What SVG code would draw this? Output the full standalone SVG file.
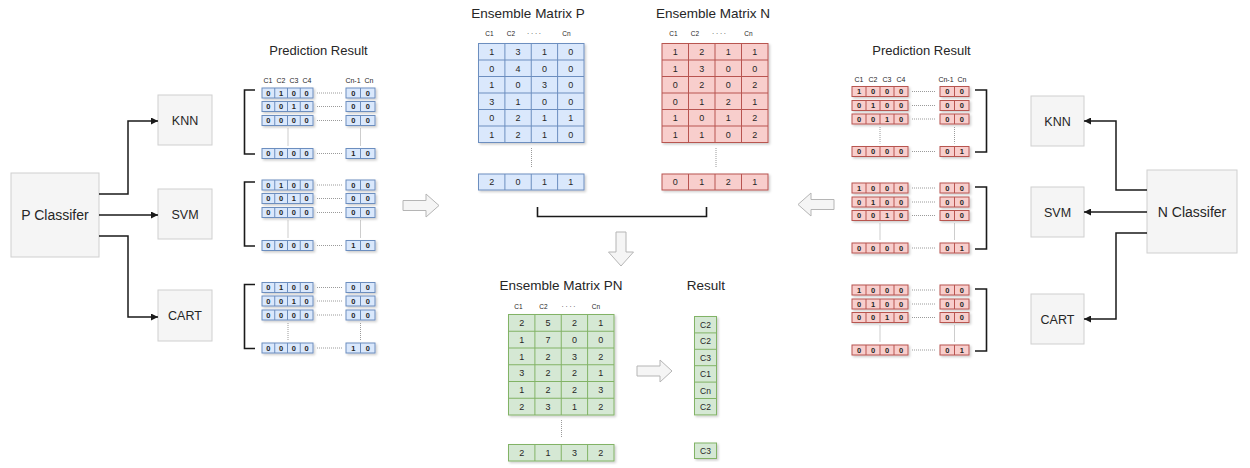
<svg xmlns="http://www.w3.org/2000/svg" width="1250" height="468" viewBox="0 0 1250 468">
<defs>
<style>
.t{font-family:"Liberation Sans",Arial,sans-serif;fill:#262626;text-anchor:middle}
.hd{font-size:7px}
.eh{font-size:6.5px}
.pc{font-size:7.5px;font-weight:bold}
.ec{font-size:9px}
.bl{fill:#dae8fc;stroke:#6c8ebf;stroke-width:1}
.rd{fill:#f8cecc;stroke:#b85450;stroke-width:1}
.gr{fill:#d5e8d4;stroke:#82b366;stroke-width:1}
.blL{fill:none;stroke:#6c8ebf;stroke-width:1}
.rdL{fill:none;stroke:#b85450;stroke-width:1}
.grL{fill:none;stroke:#82b366;stroke-width:1}
.box{fill:#f5f5f5;stroke:#cfcfcf;stroke-width:1}
.dot{fill:none;stroke:#9a9a9a;stroke-width:1;stroke-dasharray:1 1}
.brk{fill:none;stroke:#1a1a1a;stroke-width:1.6}
.con{fill:none;stroke:#1a1a1a;stroke-width:1.5}
.ha{fill:#f5f5f5;stroke:#b5b5b5;stroke-width:1}
</style>
<marker id="arr" markerUnits="userSpaceOnUse" markerWidth="8" markerHeight="7" refX="7" refY="3.5" orient="auto">
<path d="M0,0 L7,3.5 L0,7 z" fill="#1a1a1a"/>
</marker>
<filter id="sh" x="-10%" y="-10%" width="130%" height="130%">
<feDropShadow dx="1.5" dy="1.5" stdDeviation="1" flood-color="#000" flood-opacity="0.2"/>
</filter>
</defs>
<rect width="1250" height="468" fill="#ffffff"/>

<!-- Left classifiers -->
<g id="p-classifier"><rect class="box" x="11" y="173" width="88" height="84"/><text class="t" x="55" y="220" font-size="14">P Classifer</text></g>
<g id="p-knn"><rect class="box" x="158" y="95" width="54" height="50"/><text class="t" x="185" y="124.5" font-size="12.5">KNN</text></g>
<g id="p-svm"><rect class="box" x="158" y="189" width="54" height="50"/><text class="t" x="185" y="218.5" font-size="12.5">SVM</text></g>
<g id="p-cart"><rect class="box" x="158" y="290" width="54" height="51"/><text class="t" x="185" y="320" font-size="12.5">CART</text></g>

<!-- Right classifiers -->
<g id="n-classifier"><rect class="box" x="1147" y="170" width="90" height="83"/><text class="t" x="1192" y="216.5" font-size="14">N Classifer</text></g>
<g id="n-knn"><rect class="box" x="1031" y="96" width="53" height="50"/><text class="t" x="1057.5" y="125.5" font-size="12.5">KNN</text></g>
<g id="n-svm"><rect class="box" x="1031" y="187" width="53" height="50"/><text class="t" x="1057.5" y="216.5" font-size="12.5">SVM</text></g>
<g id="n-cart"><rect class="box" x="1031" y="294" width="53" height="50"/><text class="t" x="1057.5" y="323.5" font-size="12.5">CART</text></g>

<!-- Left prediction result -->
<g id="pred-left">
<text class="t" x="318.5" y="54.5" font-size="13">Prediction Result</text>
<text class="t hd" x="268" y="83">C1</text><text class="t hd" x="281" y="83">C2</text><text class="t hd" x="294" y="83">C3</text><text class="t hd" x="307" y="83">C4</text>
<text class="t hd" x="353" y="83">Cn-1</text><text class="t hd" x="369" y="83">Cn</text>
<g filter="url(#sh)">
<rect class="bl" x="262" y="88" width="51" height="10"/><rect class="bl" x="346" y="88" width="29" height="10"/>
<rect class="bl" x="262" y="101.5" width="51" height="10"/><rect class="bl" x="346" y="101.5" width="29" height="10"/>
<rect class="bl" x="262" y="115.5" width="51" height="10"/><rect class="bl" x="346" y="115.5" width="29" height="10"/>
<rect class="bl" x="262" y="148.5" width="51" height="10"/><rect class="bl" x="346" y="148.5" width="29" height="10"/>
</g>
<path class="blL" d="M274.75 88v10M287.5 88v10M300.25 88v10M360.5 88v10M274.75 101.5v10M287.5 101.5v10M300.25 101.5v10M360.5 101.5v10M274.75 115.5v10M287.5 115.5v10M300.25 115.5v10M360.5 115.5v10M274.75 148.5v10M287.5 148.5v10M300.25 148.5v10M360.5 148.5v10"/>
<text class="t pc" x="268.4 281.1 293.9 306.6 353.25 367.75" y="95.7">010000</text>
<text class="t pc" x="268.4 281.1 293.9 306.6 353.25 367.75" y="109.2">001000</text>
<text class="t pc" x="268.4 281.1 293.9 306.6 353.25 367.75" y="123.2">000000</text>
<text class="t pc" x="268.4 281.1 293.9 306.6 353.25 367.75" y="156.2">000010</text>
<path class="dot" d="M317 93H342M317 106.5H342M317 120.5H342M317 153.5H342M288 128.5V145.5M360.5 128.5V145.5"/>
<path class="brk" d="M255 90H244.5V154H255"/>

<g filter="url(#sh)">
<rect class="bl" x="262" y="180" width="51" height="10"/><rect class="bl" x="346" y="180" width="29" height="10"/>
<rect class="bl" x="262" y="193.5" width="51" height="10"/><rect class="bl" x="346" y="193.5" width="29" height="10"/>
<rect class="bl" x="262" y="207.5" width="51" height="10"/><rect class="bl" x="346" y="207.5" width="29" height="10"/>
<rect class="bl" x="262" y="240.5" width="51" height="10"/><rect class="bl" x="346" y="240.5" width="29" height="10"/>
</g>
<path class="blL" d="M274.75 180v10M287.5 180v10M300.25 180v10M360.5 180v10M274.75 193.5v10M287.5 193.5v10M300.25 193.5v10M360.5 193.5v10M274.75 207.5v10M287.5 207.5v10M300.25 207.5v10M360.5 207.5v10M274.75 240.5v10M287.5 240.5v10M300.25 240.5v10M360.5 240.5v10"/>
<text class="t pc" x="268.4 281.1 293.9 306.6 353.25 367.75" y="187.7">010000</text>
<text class="t pc" x="268.4 281.1 293.9 306.6 353.25 367.75" y="201.2">001000</text>
<text class="t pc" x="268.4 281.1 293.9 306.6 353.25 367.75" y="215.2">000000</text>
<text class="t pc" x="268.4 281.1 293.9 306.6 353.25 367.75" y="248.2">000010</text>
<path class="dot" d="M317 185H342M317 198.5H342M317 212.5H342M317 245.5H342M288 220.5V237.5M360.5 220.5V237.5"/>
<path class="brk" d="M255 182H244.5V246H255"/>

<g filter="url(#sh)">
<rect class="bl" x="262" y="282.5" width="51" height="10"/><rect class="bl" x="346" y="282.5" width="29" height="10"/>
<rect class="bl" x="262" y="296" width="51" height="10"/><rect class="bl" x="346" y="296" width="29" height="10"/>
<rect class="bl" x="262" y="310" width="51" height="10"/><rect class="bl" x="346" y="310" width="29" height="10"/>
<rect class="bl" x="262" y="343" width="51" height="10"/><rect class="bl" x="346" y="343" width="29" height="10"/>
</g>
<path class="blL" d="M274.75 282.5v10M287.5 282.5v10M300.25 282.5v10M360.5 282.5v10M274.75 296v10M287.5 296v10M300.25 296v10M360.5 296v10M274.75 310v10M287.5 310v10M300.25 310v10M360.5 310v10M274.75 343v10M287.5 343v10M300.25 343v10M360.5 343v10"/>
<text class="t pc" x="268.4 281.1 293.9 306.6 353.25 367.75" y="290.2">010000</text>
<text class="t pc" x="268.4 281.1 293.9 306.6 353.25 367.75" y="303.7">001000</text>
<text class="t pc" x="268.4 281.1 293.9 306.6 353.25 367.75" y="317.7">000000</text>
<text class="t pc" x="268.4 281.1 293.9 306.6 353.25 367.75" y="350.7">000010</text>
<path class="dot" d="M317 287.5H342M317 301H342M317 315H342M317 348H342M288 323V340M360.5 323V340"/>
<path class="brk" d="M255 284.5H244.5V348.5H255"/>
</g>

<!-- Right prediction result -->
<g id="pred-right">
<text class="t" x="921.5" y="54.5" font-size="13">Prediction Result</text>
<text class="t hd" x="859" y="82">C1</text><text class="t hd" x="873" y="82">C2</text><text class="t hd" x="887" y="82">C3</text><text class="t hd" x="901" y="82">C4</text>
<text class="t hd" x="946" y="82">Cn-1</text><text class="t hd" x="962" y="82">Cn</text>
<g filter="url(#sh)">
<rect class="rd" x="852" y="86.5" width="56" height="10"/><rect class="rd" x="940" y="86.5" width="29" height="10"/>
<rect class="rd" x="852" y="100.5" width="56" height="10"/><rect class="rd" x="940" y="100.5" width="29" height="10"/>
<rect class="rd" x="852" y="114" width="56" height="10"/><rect class="rd" x="940" y="114" width="29" height="10"/>
<rect class="rd" x="852" y="146.5" width="56" height="10"/><rect class="rd" x="940" y="146.5" width="29" height="10"/>
</g>
<path class="rdL" d="M866 86.5v10M880 86.5v10M894 86.5v10M954.5 86.5v10M866 100.5v10M880 100.5v10M894 100.5v10M954.5 100.5v10M866 114v10M880 114v10M894 114v10M954.5 114v10M866 146.5v10M880 146.5v10M894 146.5v10M954.5 146.5v10"/>
<text class="t pc" x="859 873 887 901 947.25 961.75" y="94.2">100000</text>
<text class="t pc" x="859 873 887 901 947.25 961.75" y="108.2">010000</text>
<text class="t pc" x="859 873 887 901 947.25 961.75" y="121.7">001000</text>
<text class="t pc" x="859 873 887 901 947.25 961.75" y="154.2">000001</text>
<path class="dot" d="M912 91.5H936M912 105.5H936M912 119H936M912 151.5H936M880 127V143.5M954.5 127V143.5"/>
<path class="brk" d="M975 90H986.5V152H975"/>

<g filter="url(#sh)">
<rect class="rd" x="852" y="183" width="56" height="10"/><rect class="rd" x="940" y="183" width="29" height="10"/>
<rect class="rd" x="852" y="197" width="56" height="10"/><rect class="rd" x="940" y="197" width="29" height="10"/>
<rect class="rd" x="852" y="210.5" width="56" height="10"/><rect class="rd" x="940" y="210.5" width="29" height="10"/>
<rect class="rd" x="852" y="243" width="56" height="10"/><rect class="rd" x="940" y="243" width="29" height="10"/>
</g>
<path class="rdL" d="M866 183v10M880 183v10M894 183v10M954.5 183v10M866 197v10M880 197v10M894 197v10M954.5 197v10M866 210.5v10M880 210.5v10M894 210.5v10M954.5 210.5v10M866 243v10M880 243v10M894 243v10M954.5 243v10"/>
<text class="t pc" x="859 873 887 901 947.25 961.75" y="190.7">100000</text>
<text class="t pc" x="859 873 887 901 947.25 961.75" y="204.7">010000</text>
<text class="t pc" x="859 873 887 901 947.25 961.75" y="218.2">001000</text>
<text class="t pc" x="859 873 887 901 947.25 961.75" y="250.7">000001</text>
<path class="dot" d="M912 188H936M912 202H936M912 215.5H936M912 248H936M880 223.5V240M954.5 223.5V240"/>
<path class="brk" d="M975 187H986.5V249H975"/>

<g filter="url(#sh)">
<rect class="rd" x="852" y="285" width="56" height="10"/><rect class="rd" x="940" y="285" width="29" height="10"/>
<rect class="rd" x="852" y="299" width="56" height="10"/><rect class="rd" x="940" y="299" width="29" height="10"/>
<rect class="rd" x="852" y="312.5" width="56" height="10"/><rect class="rd" x="940" y="312.5" width="29" height="10"/>
<rect class="rd" x="852" y="345" width="56" height="10"/><rect class="rd" x="940" y="345" width="29" height="10"/>
</g>
<path class="rdL" d="M866 285v10M880 285v10M894 285v10M954.5 285v10M866 299v10M880 299v10M894 299v10M954.5 299v10M866 312.5v10M880 312.5v10M894 312.5v10M954.5 312.5v10M866 345v10M880 345v10M894 345v10M954.5 345v10"/>
<text class="t pc" x="859 873 887 901 947.25 961.75" y="292.7">100000</text>
<text class="t pc" x="859 873 887 901 947.25 961.75" y="306.7">010000</text>
<text class="t pc" x="859 873 887 901 947.25 961.75" y="320.2">001000</text>
<text class="t pc" x="859 873 887 901 947.25 961.75" y="352.7">000001</text>
<path class="dot" d="M912 290H936M912 304H936M912 317.5H936M912 350H936M880 325.5V342M954.5 325.5V342"/>
<path class="brk" d="M975 289H986.5V351H975"/>
</g>

<!-- Ensemble Matrix P -->
<g id="ensemble-p">
<text class="t" x="528" y="18" font-size="13.5">Ensemble Matrix P</text>
<text class="t eh" x="489.5" y="35.5">C1</text><text class="t eh" x="511" y="35.5">C2</text><text class="t eh" x="534" y="35.5">· · · ·</text><text class="t eh" x="566.5" y="35.5">Cn</text>
<rect class="bl" x="478.5" y="43.5" width="105.5" height="99" filter="url(#sh)"/>
<path class="blL" d="M504.9 43.5V142.5M531.25 43.5V142.5M557.6 43.5V142.5M478.5 60H584M478.5 76.5H584M478.5 93H584M478.5 109.5H584M478.5 126H584"/>
<text class="t ec" x="491.7 518.1 544.4 570.8" y="55">1310</text>
<text class="t ec" x="491.7 518.1 544.4 570.8" y="71.5">0400</text>
<text class="t ec" x="491.7 518.1 544.4 570.8" y="88">1030</text>
<text class="t ec" x="491.7 518.1 544.4 570.8" y="104.5">3100</text>
<text class="t ec" x="491.7 518.1 544.4 570.8" y="121">0211</text>
<text class="t ec" x="491.7 518.1 544.4 570.8" y="137.5">1210</text>
<path class="dot" d="M531.5 148V168"/>
<rect class="bl" x="478.5" y="174" width="105.5" height="16" filter="url(#sh)"/>
<path class="blL" d="M504.9 174V190M531.25 174V190M557.6 174V190"/>
<text class="t ec" x="491.7 518.1 544.4 570.8" y="185.2">2011</text>
</g>

<!-- Ensemble Matrix N -->
<g id="ensemble-n">
<text class="t" x="713" y="18" font-size="13.5">Ensemble Matrix N</text>
<text class="t eh" x="673.5" y="35.5">C1</text><text class="t eh" x="695" y="35.5">C2</text><text class="t eh" x="719" y="35.5">· · · ·</text><text class="t eh" x="748.5" y="35.5">Cn</text>
<rect class="rd" x="662" y="43.5" width="106" height="99" filter="url(#sh)"/>
<path class="rdL" d="M688.5 43.5V142.5M715 43.5V142.5M741.5 43.5V142.5M662 60H768M662 76.5H768M662 93H768M662 109.5H768M662 126H768"/>
<text class="t ec" x="675.25 701.75 728.25 754.75" y="55">1211</text>
<text class="t ec" x="675.25 701.75 728.25 754.75" y="71.5">1300</text>
<text class="t ec" x="675.25 701.75 728.25 754.75" y="88">0202</text>
<text class="t ec" x="675.25 701.75 728.25 754.75" y="104.5">0121</text>
<text class="t ec" x="675.25 701.75 728.25 754.75" y="121">1012</text>
<text class="t ec" x="675.25 701.75 728.25 754.75" y="137.5">1102</text>
<path class="dot" d="M716 148V168"/>
<rect class="rd" x="662" y="174" width="106" height="16" filter="url(#sh)"/>
<path class="rdL" d="M688.5 174V190M715 174V190M741.5 174V190"/>
<text class="t ec" x="675.25 701.75 728.25 754.75" y="185.2">0121</text>
</g>

<!-- Ensemble Matrix PN -->
<g id="ensemble-pn">
<text class="t" x="561" y="290" font-size="13.5">Ensemble Matrix PN</text>
<text class="t eh" x="518.5" y="309">C1</text><text class="t eh" x="543.5" y="309">C2</text><text class="t eh" x="568.5" y="309">· · · ·</text><text class="t eh" x="596" y="309">Cn</text>
<rect class="gr" x="508.5" y="314.5" width="105.5" height="100.5" filter="url(#sh)"/>
<path class="grL" d="M534.9 314.5V415M561.25 314.5V415M587.6 314.5V415M508.5 331.25H614M508.5 348H614M508.5 364.75H614M508.5 381.5H614M508.5 398.25H614"/>
<text class="t ec" x="521.7 548.1 574.4 600.8" y="326.1">2521</text>
<text class="t ec" x="521.7 548.1 574.4 600.8" y="342.8">1700</text>
<text class="t ec" x="521.7 548.1 574.4 600.8" y="359.6">1232</text>
<text class="t ec" x="521.7 548.1 574.4 600.8" y="376.3">3221</text>
<text class="t ec" x="521.7 548.1 574.4 600.8" y="393.1">1223</text>
<text class="t ec" x="521.7 548.1 574.4 600.8" y="409.8">2312</text>
<path class="dot" d="M561.5 420V437"/>
<rect class="gr" x="508.5" y="444.5" width="105.5" height="16.5" filter="url(#sh)"/>
<path class="grL" d="M534.9 444.5V461M561.25 444.5V461M587.6 444.5V461"/>
<text class="t ec" x="521.7 548.1 574.4 600.8" y="456">2132</text>
</g>

<!-- Result -->
<g id="result">
<text class="t" x="706" y="290" font-size="13.5">Result</text>
<rect class="gr" x="694.5" y="316.5" width="22" height="98.4" filter="url(#sh)"/>
<path class="grL" d="M694.5 332.9H716.5M694.5 349.3H716.5M694.5 365.7H716.5M694.5 382.1H716.5M694.5 398.5H716.5"/>
<text class="t" font-size="8.5" x="705.5" y="327.9">C2</text>
<text class="t" font-size="8.5" x="705.5" y="344.3">C2</text>
<text class="t" font-size="8.5" x="705.5" y="360.7">C3</text>
<text class="t" font-size="8.5" x="705.5" y="377.1">C1</text>
<text class="t" font-size="8.5" x="705.5" y="393.5">Cn</text>
<text class="t" font-size="8.5" x="705.5" y="409.9">C2</text>
<rect class="gr" x="694.5" y="443" width="22" height="15.5" filter="url(#sh)"/>
<text class="t" font-size="8.5" x="705.5" y="453.9">C3</text>
</g>

<!-- Connectors -->
<g id="connectors">
<path class="con" d="M99 194H128V121H158" marker-end="url(#arr)"/>
<path class="con" d="M99 215H158" marker-end="url(#arr)"/>
<path class="con" d="M99 236H128V317H158" marker-end="url(#arr)"/>
<path class="con" d="M1147 190H1116V121H1084" marker-end="url(#arr)"/>
<path class="con" d="M1147 212H1084" marker-end="url(#arr)"/>
<path class="con" d="M1147 233H1116V319H1084" marker-end="url(#arr)"/>
<path class="brk" d="M537.5 207V216.5H706.5V207"/>
<polygon class="ha" points="403,200.5 426,200.5 426,194 439,205.5 426,217 426,210.5 403,210.5"/>
<polygon class="ha" points="834,199.5 811,199.5 811,193 798,204.5 811,216 811,209.5 834,209.5"/>
<polygon class="ha" points="616,232 626,232 626,252 633.5,252 621,266 608.5,252 616,252"/>
<polygon class="ha" points="637,366 660,366 660,360 672,371 660,382 660,376 637,376"/>
</g>
</svg>
